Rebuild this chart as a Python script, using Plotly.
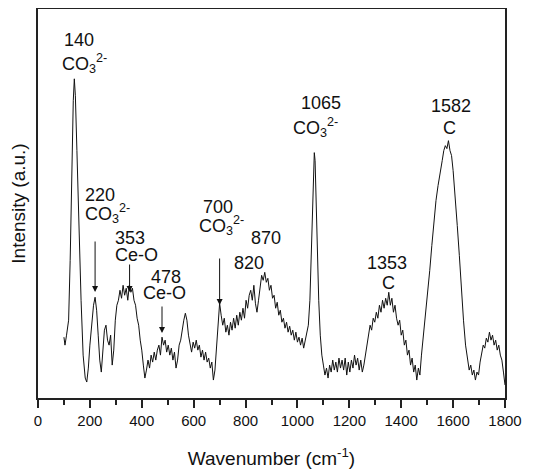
import plotly.graph_objects as go

# Raman spectrum (wavenumber in cm-1, intensity in a.u.)
wavenumber = [
    100, 104, 110, 118, 124, 130, 136, 140, 144, 150, 158, 166, 174, 182, 188, 194,
    200, 208, 214, 220, 226, 232, 238, 244, 250, 256, 262, 268, 274, 280, 286, 292,
    298, 304, 310, 316, 322, 328, 334, 340, 346, 352, 358, 364, 370, 376, 382, 388,
    394, 400, 406, 412, 418, 424, 430, 436, 442, 448, 454, 460, 466, 472, 478, 484,
    490, 496, 502, 508, 514, 520, 526, 532, 538, 544, 550, 556, 562, 568, 574, 580,
    586, 592, 598, 604, 610, 616, 622, 628, 634, 640, 646, 652, 658, 664, 670, 676,
    682, 688, 694, 700, 706, 712, 718, 724, 730, 736, 742, 748, 754, 760, 766, 772,
    778, 784, 790, 796, 802, 808, 814, 820, 826, 832, 838, 844, 850, 856, 862, 868,
    874, 880, 886, 892, 898, 904, 910, 916, 922, 928, 934, 940, 946, 952, 958, 964,
    970, 976, 982, 988, 994, 1000, 1006, 1012, 1018, 1024, 1030, 1036, 1042, 1048,
    1054, 1058, 1062, 1065, 1068, 1072, 1076, 1082, 1088, 1094, 1100, 1106, 1112,
    1118, 1124, 1130, 1136, 1142, 1148, 1154, 1160, 1166, 1172, 1178, 1184, 1190,
    1196, 1202, 1208, 1214, 1220, 1226, 1232, 1238, 1244, 1250, 1256, 1262, 1268,
    1274, 1280, 1286, 1292, 1298, 1304, 1310, 1316, 1322, 1328, 1334, 1340, 1346,
    1352, 1358, 1364, 1370, 1376, 1382, 1388, 1394, 1400, 1406, 1412, 1418, 1424,
    1430, 1436, 1442, 1448, 1454, 1460, 1466, 1472, 1478, 1484, 1490, 1496, 1502,
    1510, 1518, 1526, 1534, 1542, 1550, 1558, 1564, 1570, 1576, 1582, 1588, 1594,
    1600, 1608, 1616, 1624, 1632, 1640, 1648, 1656, 1662, 1668, 1674, 1680, 1686,
    1692, 1698, 1704, 1710, 1716, 1722, 1728, 1734, 1740, 1746, 1752, 1758, 1764,
    1770, 1776, 1782, 1788, 1794, 1800,
]
intensity = [
    61, 53, 63, 78, 138, 228, 298, 320, 303, 248, 168, 98, 43, 20, 16, 30,
    53, 78, 93, 101, 88, 63, 38, 26, 48, 68, 73, 58, 53, 63, 33, 48,
    78, 93, 98, 108, 100, 113, 103, 110, 98, 113, 106, 110, 98, 93, 80, 73,
    58, 48, 33, 20, 28, 38, 30, 43, 36, 46, 38, 48, 53, 43, 61, 53,
    58, 46, 53, 43, 50, 38, 46, 30, 38, 53, 58, 70, 78, 85, 78, 63,
    53, 46, 56, 50, 58, 48, 53, 41, 48, 38, 46, 36, 40, 30, 36, 18,
    28, 48, 73, 95, 83, 73, 80, 66, 73, 63, 76, 68, 80, 70, 83, 73,
    86, 78, 90, 80, 98, 90, 103, 108, 98, 113, 95, 86, 98, 113, 123, 118,
    126, 116, 120, 108, 113, 100, 103, 90, 96, 83, 88, 76, 80, 70, 76, 66,
    72, 63, 68, 58, 66, 56, 61, 53, 60, 50, 58, 63, 73, 98,
    148, 198, 238, 246, 238, 198, 148, 98, 63, 43, 33, 23, 30,
    20, 33, 26, 38, 28, 36, 26, 40, 30, 38, 28, 40, 23,
    36, 26, 38, 30, 43, 33, 40, 28, 38, 26, 33, 43, 53,
    63, 73, 68, 80, 76, 86, 80, 93, 86, 98, 90, 100, 93,
    106, 93, 100, 86, 93, 80, 73, 78, 63, 68, 53, 58, 43,
    48, 33, 40, 26, 33, 18, 30, 23, 43, 58, 73, 88, 103,
    128, 153, 178, 198, 213, 228, 238, 248, 253, 250, 258, 248, 243,
    228, 203, 173, 143, 108, 78, 53, 38, 28, 33, 23, 28, 18,
    26, 23, 36, 43, 53, 50, 60, 56, 66, 58, 63, 53, 58,
    48, 53, 43, 38, 26, 13,
]

# Peak labels: (first line, second line)
peak_numbers = ["140", "220", "353", "478", "700", "820", "870", "1065", "1353", "1582"]
peak_species = ["CO<sub>3</sub><sup>2-</sup>", "CO<sub>3</sub><sup>2-</sup>", "Ce-O", "Ce-O",
                "CO<sub>3</sub><sup>2-</sup>", "", "", "CO<sub>3</sub><sup>2-</sup>", "C", "C"]
arrow_peaks = [220, 353, 478, 700]

FONT = "Liberation Sans, Arial, sans-serif"
INK = "#111111"

fig = go.Figure()
fig.add_trace(go.Scatter(x=wavenumber, y=intensity, mode="lines",
                         line=dict(color=INK, width=1), showlegend=False,
                         hoverinfo="skip"))

# pixel helpers for label placement (window px: x 0->38px, 1800->505px; y top 8px, bottom 398px)
def px2x(px):
    return (px - 38.0) * 1800.0 / (505.0 - 38.0)

def py2y(py):
    return (398.0 - py) * 390.0 / 389.0

# (number centre px, number centre py, species centre px, species centre py)
label_pos = {
    "140": (79, 40, 84, 63),
    "220": (100, 195, 107, 213),
    "353": (130, 238, 136, 255),
    "478": (166, 277, 164, 293),
    "700": (218, 207, 221, 225),
    "820": (249, 263, None, None),
    "870": (266, 238, None, None),
    "1065": (321, 103, 315, 127),
    "1353": (387, 263, 388, 283),
    "1582": (451, 106, 449, 128),
}

annotations = []
for num, spec in zip(peak_numbers, peak_species):
    nx, ny, sx, sy = label_pos[num]
    annotations.append(dict(x=px2x(nx), y=py2y(ny), xref="x", yref="y", text=num,
                            showarrow=False, xanchor="center", yanchor="middle",
                            font=dict(family=FONT, size=18, color=INK)))
    if spec:
        annotations.append(dict(x=px2x(sx), y=py2y(sy), xref="x", yref="y", text=spec,
                                showarrow=False, xanchor="center", yanchor="middle",
                                font=dict(family=FONT, size=18, color=INK)))

# arrows: (tail py, head py)
arrow_py = {220: (240, 292), 353: (263, 292), 478: (305, 333), 700: (257, 305)}
for p in arrow_peaks:
    tail, head = arrow_py[p]
    annotations.append(dict(x=p, y=py2y(head), ax=p, ay=py2y(tail), xref="x", yref="y",
                            axref="x", ayref="y", text="", showarrow=True,
                            arrowhead=2, arrowsize=1.2, arrowwidth=1, arrowcolor=INK))

# page body has an 8px margin, so the figure is drawn 8px in from the top-left
fig.update_layout(
    width=526, height=464,
    margin=dict(l=30, r=29, t=1, b=74),
    paper_bgcolor="white", plot_bgcolor="white",
    font=dict(family=FONT, color=INK),
    annotations=annotations,
    xaxis=dict(range=[0, 1800], tickmode="array",
               tickvals=[0, 200, 400, 600, 800, 1000, 1200, 1400, 1600, 1800],
               ticks="outside", ticklen=8, tickwidth=1.5, tickcolor="#222",
               minor=dict(ticks="outside", ticklen=5, tickwidth=1.5, tickcolor="#222", dtick=100,
                          tick0=0),
               showline=True, linecolor="#222", linewidth=2, mirror=True,
               showgrid=False, zeroline=False, automargin=False,
               tickfont=dict(family=FONT, size=15, color=INK),
               title=dict(text="Wavenumber (cm<sup>-1</sup>)", standoff=24,
                          font=dict(family=FONT, size=19, color=INK))),
    yaxis=dict(range=[0, 390], showticklabels=False, ticks="",
               showline=True, linecolor="#222", linewidth=2, mirror=True,
               showgrid=False, zeroline=False, automargin=False,
               title=dict(text="Intensity (a.u.)", standoff=9,
                          font=dict(family=FONT, size=19, color=INK))),
)

fig.write_html("out.html")
